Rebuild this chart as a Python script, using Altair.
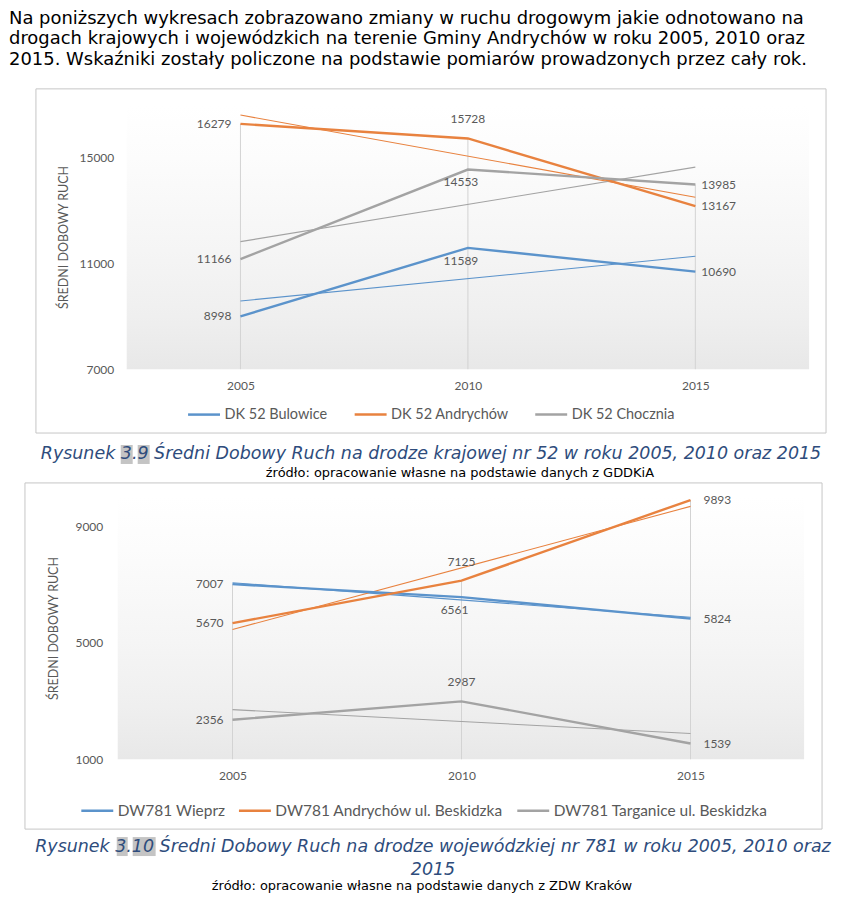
import altair as alt
import pandas as pd

# ---------------- data ----------------
years = [2005, 2010, 2015]

dk_series = ["DK 52 Bulowice", "DK 52 Andrychów", "DK 52 Chocznia"]
dk_bulowice = [8998, 11589, 10690]
dk_andrychow = [16279, 15728, 13167]
dk_chocznia = [11166, 14553, 13985]

dw_series = ["DW781 Wieprz", "DW781 Andrychów ul. Beskidzka", "DW781 Targanice ul. Beskidzka"]
dw_wieprz = [7007, 6561, 5824]
dw_andrychow = [5670, 7125, 9893]
dw_targanice = [2356, 2987, 1539]

y1_ticks = [7000, 11000, 15000]
y2_ticks = [1000, 5000, 9000]

paragraph = [
    "Na poniższych wykresach zobrazowano zmiany w ruchu drogowym jakie odnotowano na",
    "drogach krajowych i wojewódzkich na terenie Gminy Andrychów w roku 2005, 2010 oraz",
    "2015. Wskaźniki zostały policzone na podstawie pomiarów prowadzonych przez cały rok.",
]
cap1 = "Rysunek 3.9 Średni Dobowy Ruch na drodze krajowej nr 52 w roku 2005, 2010 oraz 2015"
src1 = "źródło: opracowanie własne na podstawie danych z GDDKiA"
cap2 = [
    "Rysunek 3.10 Średni Dobowy Ruch na drodze wojewódzkiej nr 781 w roku 2005, 2010 oraz",
    "2015",
]
src2 = "źródło: opracowanie własne na podstawie danych z ZDW Kraków"
y_title = "ŚREDNI DOBOWY RUCH"


def long_df(series, values):
    rows = []
    for s, vals in zip(series, values):
        for yr, v in zip(years, vals):
            rows.append({"year": yr, "series": s, "value": v})
    return pd.DataFrame(rows)


df1 = long_df(dk_series, [dk_bulowice, dk_andrychow, dk_chocznia])
df2 = long_df(dw_series, [dw_wieprz, dw_andrychow, dw_targanice])

# ---------------- style ----------------
COLORS = ["#5b93cb", "#e8823f", "#a3a3a3"]
CF = "Lato"
TXT = "#595959"
DOC_FONT = "DejaVu Sans"
CAP_COLOR = "#2e4c7c"
HILITE = "#c4c4c4"

dummy = pd.DataFrame({"k": [0]})


def box(x1, y1, x2, y2, **mark):
    return alt.Chart(dummy).mark_rect(**mark).encode(
        x=alt.value(x1), x2=alt.value(x2), y=alt.value(y1), y2=alt.value(y2)
    )


def txt(s, x, y, **kw):
    return alt.Chart(dummy).mark_text(text=s, **kw).encode(x=alt.value(x), y=alt.value(y))


def panel(df, series, xdom, ydom, yticks, W, H, grad_x1, spacer, border, legend_xy,
          col_pad, leg_size, title_x, ylab_pad, dx_left, dx_right, above, texts):
    xenc = alt.X(
        "year:Q",
        scale=alt.Scale(domain=xdom, nice=False, zero=False),
        axis=alt.Axis(values=years, format="d", title=None, grid=False, domain=False,
                      ticks=False, tickSize=0, labelPadding=11, labelFont=CF,
                      labelFontSize=12, labelColor=TXT),
    )
    yaxis = alt.Axis(values=yticks, format="d", title=y_title, grid=False, domain=False,
                     ticks=False, tickSize=0, labelPadding=ylab_pad, labelFont=CF,
                     labelFontSize=12, labelColor=TXT, titleFont=CF, titleFontSize=12.5,
                     titleFontWeight="normal", titleColor=TXT, titleX=title_x,
                     titleY=H / 2, titleAngle=270, titleAlign="center",
                     titleBaseline="middle")
    yscale = alt.Scale(domain=ydom, nice=False, zero=False)
    yenc = alt.Y("value:Q", scale=yscale, axis=yaxis)
    cenc = alt.Color(
        "series:N",
        scale=alt.Scale(domain=series, range=COLORS),
        sort=series,
        legend=alt.Legend(orient="none", legendX=legend_xy[0], legendY=legend_xy[1],
                          direction="horizontal", title=None, symbolType="stroke",
                          symbolSize=1024, symbolStrokeWidth=2.5, labelFont=CF,
                          labelFontSize=leg_size, labelColor=TXT, columnPadding=col_pad,
                          labelOffset=3, labelLimit=400),
    )
    base = alt.Chart(df)

    sp = box(*spacer, fill="transparent")
    grad = box(grad_x1, 0, W, H, color=alt.Gradient(
        gradient="linear", x1=0, x2=0, y1=0, y2=1,
        stops=[alt.GradientStop(offset=0, color="#ffffff"),
               alt.GradientStop(offset=0.2, color="#fcfcfc"),
               alt.GradientStop(offset=0.55, color="#f5f5f5"),
               alt.GradientStop(offset=0.8, color="#efefef"),
               alt.GradientStop(offset=1, color="#e8e8e8")]))
    frame = box(*border, fill="transparent", stroke="#c6c6c6", strokeWidth=1)

    drops = base.transform_aggregate(
        top="max(value)", groupby=["year"]
    ).mark_rule(color="#d3d3d3", strokeWidth=1).encode(
        x=xenc, y=alt.Y("top:Q", scale=yscale, axis=yaxis), y2=alt.datum(ydom[0])
    )
    trend = base.transform_regression(
        "year", "value", groupby=["series"], extent=[2005, 2015]
    ).mark_line(strokeWidth=1.1).encode(x=xenc, y=yenc, color=cenc, detail="series:N")
    lines = base.mark_line(strokeWidth=2.4).encode(x=xenc, y=yenc, color=cenc)

    tenc = alt.Text("value:Q", format="d")
    tstyle = dict(font=CF, fontSize=12, color=TXT, baseline="middle")
    lab_l = base.transform_filter(alt.datum.year == 2005).mark_text(
        align="right", dx=dx_left, **tstyle).encode(x=xenc, y=yenc, text=tenc)
    lab_r = base.transform_filter(alt.datum.year == 2015).mark_text(
        align="left", dx=dx_right, **tstyle).encode(x=xenc, y=yenc, text=tenc)
    lab_a = base.transform_filter(alt.datum.year == 2010).transform_filter(
        alt.FieldOneOfPredicate(field="series", oneOf=above)
    ).mark_text(align="center", dy=-19, **tstyle).encode(x=xenc, y=yenc, text=tenc)
    below = [s for s in series if s not in above]
    lab_b = base.transform_filter(alt.datum.year == 2010).transform_filter(
        alt.FieldOneOfPredicate(field="series", oneOf=below)
    ).mark_text(align="center", dx=-7, dy=13, **tstyle).encode(x=xenc, y=yenc, text=tenc)

    layers = [sp, grad, frame, drops, trend, lines, lab_l, lab_r, lab_a, lab_b] + texts
    return alt.layer(*layers).properties(width=W, height=H)


# ---------- chart 1 (plot origin page 126,103) ----------
t1 = [
    txt(paragraph, -118, -81, align="left", baseline="alphabetic", font=DOC_FONT,
        fontSize=18, lineHeight=20.5, color="#000000"),
    box(-6, 341, 6, 360, color=HILITE),
    box(11, 341, 23, 360, color=HILITE),
    txt(cap1, 305, 355, align="center", baseline="alphabetic", font=DOC_FONT,
        fontSize=17.5, fontStyle="italic", color=CAP_COLOR),
    txt(src1, 334, 373, align="center", baseline="alphabetic", font=DOC_FONT,
        fontSize=13, color="#000000"),
]
c1 = panel(df1, dk_series, [2002.5, 2017.5], [7000, 17000], y1_ticks, 684, 265, 0,
           spacer=(-118, -95, 718, 376), border=(-91, -16, 701, 329),
           legend_xy=(60, 293), col_pad=21, leg_size=14.5, title_x=-63, ylab_pad=13,
           dx_left=-9, dx_right=6, above=["DK 52 Andrychów"], texts=t1)

# ---------- chart 2 (plot origin page 126,497; plot area drawn from page 117) ----------
t2 = [
    box(-10, 341, 1, 360, color=HILITE),
    box(6, 341, 29, 360, color=HILITE),
    txt(cap2, 307, 356, align="center", baseline="alphabetic", font=DOC_FONT,
        fontSize=17.5, fontStyle="italic", lineHeight=23, color=CAP_COLOR),
    txt(src2, 296, 394, align="center", baseline="alphabetic", font=DOC_FONT,
        fontSize=13, color="#000000"),
]
c2 = panel(df2, dw_series, [2002.69, 2017.48], [1000, 10000], y2_ticks, 679, 263, -9,
           spacer=(-118, -15, 718, 394), border=(-102, -14, 697, 333),
           legend_xy=(-47, 297), col_pad=8, leg_size=15.5, title_x=-73, ylab_pad=24,
           dx_left=-9, dx_right=13,
           above=["DW781 Andrychów ul. Beskidzka", "DW781 Targanice ul. Beskidzka"],
           texts=t2)

chart = alt.vconcat(c1, c2, spacing=0).resolve_scale(
    x="independent", y="independent", color="independent"
).resolve_legend(color="independent").properties(padding=0).configure_view(
    stroke="transparent"
)

chart.save("out.html", embed_options={"renderer": "svg", "actions": False})
